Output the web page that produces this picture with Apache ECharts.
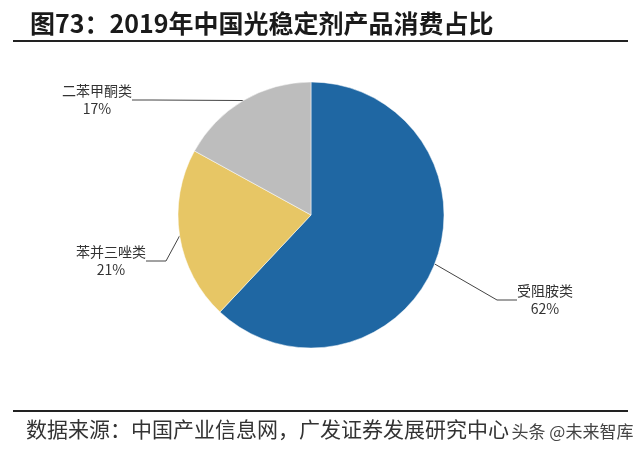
<!DOCTYPE html>
<html lang="zh">
<head>
    <meta charset="UTF-8">
    <title>光稳定剂产品消费占比</title>
 <style>
     html, body { margin: 0; padding: 0; background: #fff; }
     #main { width: 640px; height: 456px; }
  </style>
</head>
<body>
<div id="main"></div>
<script src="https://cdn.jsdelivr.net/npm/echarts@6/dist/echarts.min.js"></script>
<script>
    // data
    var categories = ['受阻胺类', '苯并三唑类', '二苯甲酮类'];
    var shares = [62, 21, 17];

    var sliceColors = ['#1f67a3', '#e7c665', '#bdbdbd'];
    // where each label block sits (centre, px)
    var labelSpots = [[545, 300], [111, 261], [97, 100]];

    var font = '"Noto Sans CJK SC", "Noto Sans", sans-serif';
    var chart = echarts.init(document.getElementById('main'));

    var option = {
        backgroundColor: '#fff',
        animation: false,
        title: {
            text: '图73：2019年中国光稳定剂产品消费占比',
            left: 25,
            top: 6,
            textStyle: {
                fontFamily: font,
                fontSize: 25,
                fontWeight: 'bold',
                color: '#1a1a1a'
            }
        },
        graphic: [
            { type: 'line', shape: { x1: 13, y1: 41, x2: 628, y2: 41 }, style: { stroke: '#222', lineWidth: 2 } },
            { type: 'line', shape: { x1: 13, y1: 411, x2: 628, y2: 411 }, style: { stroke: '#222', lineWidth: 2 } },
            {
                type: 'text', left: 26, top: 419,
                style: { text: '数据来源：中国产业信息网，广发证券发展研究中心', fontFamily: font, fontSize: 21, fill: '#333' }
            },
            {
                type: 'text', left: 510, top: 422,
                style: { text: '头条 @未来智库', fontFamily: font, fontSize: 17, fill: '#444', stroke: '#fff', lineWidth: 3 }
            }
        ],
        series: [
            {
                type: 'pie',
                center: [311, 215],
                radius: 133,
                startAngle: 90,
                clockwise: true,
                avoidLabelOverlap: false,
                itemStyle: { borderColor: '#fff', borderWidth: 0.5 },
                label: {
                    show: true,
                    position: 'outside',
                    formatter: '{b}\n{c}%',
                    fontFamily: font,
                    fontSize: 14,
                    lineHeight: 18,
                    color: '#333',
                    align: 'center'
                },
                labelLine: {
                    show: true,
                    length: 20,
                    length2: 20,
                    lineStyle: { color: '#444', width: 1 }
                },
                labelLayout: function (params) {
                    var p = labelSpots[params.dataIndex];
                    return { x: p[0], y: p[1], align: 'center', verticalAlign: 'middle' };
                },
                data: categories.map(function (name, i) {
                    return { name: name, value: shares[i], itemStyle: { color: sliceColors[i] } };
                })
            }
        ]
    };

    chart.setOption(option);
</script>
</body>
</html>
